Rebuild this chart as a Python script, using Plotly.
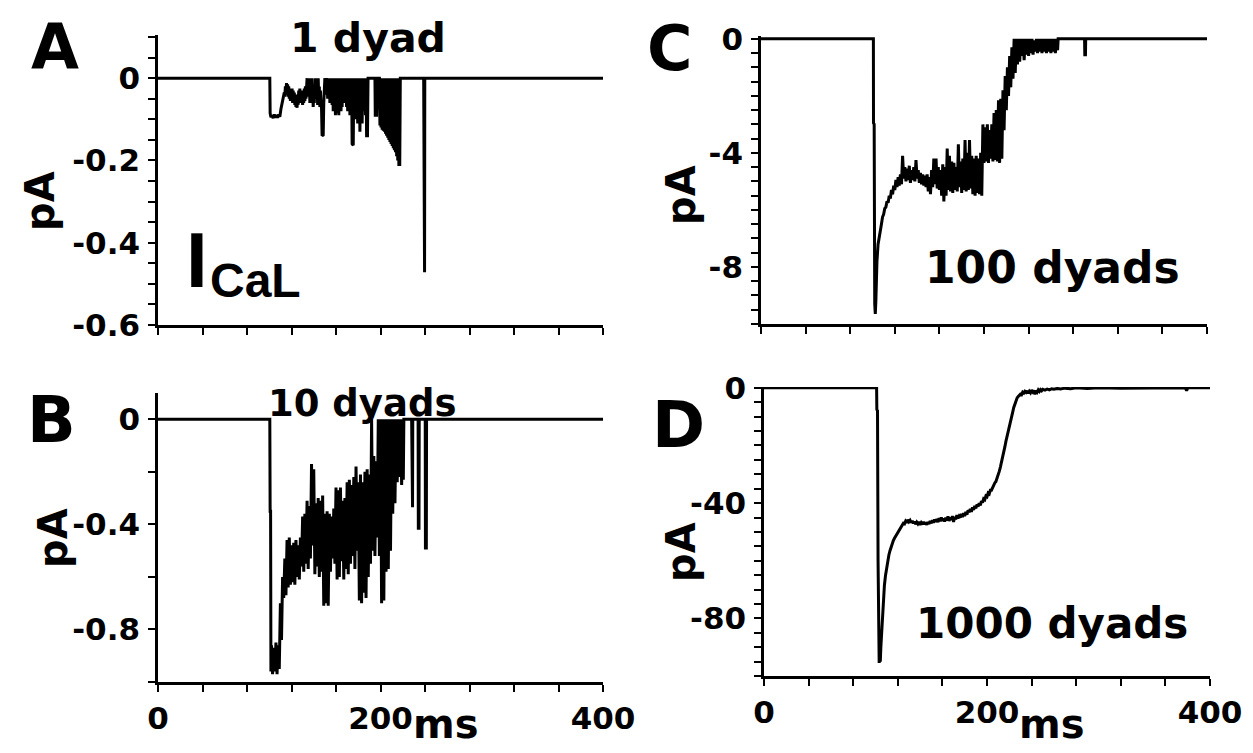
import plotly.graph_objects as go

# ---------------- data ----------------
# Panel A: 1 dyad  (time in ms, current in pA)
t_A = [0, 100.5, 100.8, 101.5, 102.5, 103.5, 104.5, 105.5, 106.5, 107.5, 108.5, 109.5, 110.5, 111.5, 112.5, 113.5,
       114, 114.5, 115, 115.5, 116, 116.5, 117, 117.5, 118, 118.5,
       119, 119.5, 120, 120.5, 121, 121.5, 122, 122.5, 123, 123.5,
       124, 124.5, 125, 125.5, 126, 126.5, 127, 127.5, 128, 128.5,
       129, 129.5, 130, 130.5, 131, 131.5, 132, 132.5, 133, 133.5,
       134, 134.5, 135, 135.5, 136, 136.5, 137, 137.5, 138, 138.5,
       139, 139.5, 140, 140.5, 141, 141.5, 142, 142.5, 143, 143.5,
       144, 144.5, 145, 145.5, 146, 146.5, 147,
       147.5, 148.5, 149, 149.5,
       150, 150.5, 151, 151.5, 152, 152.5, 153, 153.5, 154, 154.5,
       155, 155.5, 156, 156.5, 157, 157.5, 158, 158.5, 159, 159.5,
       160, 160.5, 161, 161.5, 162, 162.5, 163, 163.5, 164, 164.5,
       165, 165.5, 166, 166.5, 167, 167.5, 168, 168.5, 169, 169.5,
       170, 170.5, 171, 171.5, 172, 172.5, 173, 173.5, 174,
       174.5, 175.5,
       176, 176.5, 177, 177.5, 178, 178.5, 179, 179.5, 180, 180.5,
       181, 181.5, 182, 182.5, 183, 183.5, 184, 184.5, 185, 185.5,
       186, 186.5, 187,
       187.5, 188.3, 188.8, 195, 195.3, 196.5, 197, 199,
       199.5, 200, 200.5, 201, 201.5, 202, 202.5, 203, 203.5, 204,
       204.5, 205, 205.5, 206, 206.5, 207, 207.5, 208, 208.5, 209,
       209.5, 210, 210.5, 211, 211.5, 212, 212.5, 213, 213.5, 214,
       214.5, 215, 215.5, 216, 216.5,
       217.3, 217.8, 238.8, 239, 239.6, 239.8, 400]
i_A = [0, 0, -0.085, -0.095, -0.09, -0.097, -0.088, -0.096, -0.09, -0.096, -0.088, -0.094, -0.075, -0.06, -0.05, -0.035,
       -0.045, -0.02, -0.04, -0.012, -0.035, -0.015, -0.045, -0.02, -0.05, -0.025,
       -0.055, -0.03, -0.05, -0.025, -0.06, -0.03, -0.055, -0.035, -0.065, -0.04,
       -0.07, -0.045, -0.072, -0.04, -0.065, -0.03, -0.06, -0.025, -0.055, -0.03,
       -0.06, -0.035, -0.065, -0.03, -0.06, -0.025, -0.055, -0.02, -0.05, -0.01,
       0, -0.04, 0, -0.045, 0, -0.06, -0.01, -0.055, 0, -0.06,
       -0.02, -0.07, -0.03, -0.06, 0, -0.04, 0, -0.05, -0.01, -0.065,
       0, -0.05, -0.02, -0.07, -0.03, -0.06, -0.075,
       -0.14, -0.138, -0.06, -0.02,
       0, -0.04, 0, -0.03, 0, -0.05, 0, -0.035, 0, -0.06,
       -0.01, -0.045, 0, -0.065, 0, -0.08, 0, -0.075, -0.01, -0.09,
       0, -0.085, 0, -0.07, 0, -0.09, 0, -0.06, 0, -0.08,
       0, -0.07, -0.01, -0.05, 0, -0.06, 0, -0.04, 0, -0.07,
       0, -0.08, 0, -0.065, -0.01, -0.09, 0, -0.075, 0,
       -0.16, -0.163,
       0, -0.09, 0, -0.1, 0, -0.085, 0, -0.11, 0, -0.08,
       0, -0.13, 0, -0.095, 0, -0.11, 0, -0.07, 0, -0.08,
       0, -0.09, 0,
       -0.14, -0.14, 0, 0, -0.09, -0.09, 0, 0,
       -0.115, 0, -0.12, 0, -0.125, 0, -0.128, 0, -0.13, 0,
       -0.135, 0, -0.14, 0, -0.145, 0, -0.15, 0, -0.155, 0,
       -0.16, 0, -0.165, 0, -0.17, 0, -0.175, 0, -0.18, 0,
       -0.19, 0, -0.2, 0, -0.21,
       -0.21, 0, 0, -0.472, -0.472, 0, 0]

# Panel B: 10 dyads
t_B = [0, 100.5, 100.8, 101.2, 101.5, 102, 103, 104, 105, 106, 107, 108, 109, 110, 111, 112, 113, 114,
       115, 116, 117, 118, 119, 120, 121, 122, 123, 124, 125, 126, 127, 128, 129, 130, 131, 132, 133, 134,
       135, 136, 137, 138, 139, 140, 141, 142, 143, 144, 145, 146, 147, 148, 149, 150, 151, 152, 153, 154,
       155, 156, 157, 158, 159, 160, 161, 162, 163, 164, 165, 166, 167, 168, 169, 170, 171, 172, 173, 174,
       175, 176, 177, 178, 179, 180, 181, 182, 183, 184, 185, 186, 187, 188, 189, 190, 191, 192, 193, 194,
       195, 196, 197, 198, 199, 200, 201, 202, 203, 204, 205, 206, 207, 208, 209, 210, 211, 212, 213, 214,
       215, 216, 217, 218, 219, 220, 220.5, 221, 228, 228.3, 228.8, 229, 233.8, 234, 234.6, 234.8, 240.2,
       240.4, 241.2, 241.4, 400]
i_B = [0, 0, -0.35, -0.35, -0.96, -0.86, -0.97, -0.87, -0.96, -0.85, -0.97, -0.86, -0.95, -0.70, -0.84,
       -0.60, -0.68, -0.53, -0.67, -0.46, -0.64, -0.45, -0.63, -0.48, -0.62, -0.47, -0.63, -0.46, -0.60,
       -0.48, -0.61, -0.45, -0.56, -0.37, -0.58, -0.36, -0.55, -0.31, -0.57, -0.33, -0.53, -0.17, -0.48,
       -0.19, -0.59, -0.32, -0.56, -0.30, -0.60, -0.31, -0.58, -0.29, -0.71, -0.36, -0.70, -0.35, -0.71,
       -0.36, -0.58, -0.37, -0.53, -0.34, -0.55, -0.26, -0.61, -0.27, -0.60, -0.26, -0.54, -0.31, -0.61,
       -0.30, -0.57, -0.24, -0.59, -0.23, -0.55, -0.25, -0.52, -0.22, -0.57, -0.18, -0.50, -0.24, -0.69,
       -0.21, -0.70, -0.24, -0.66, -0.20, -0.68, -0.19, -0.60, -0.21, -0.55, 0, -0.50, -0.14, -0.52,
       -0.16, -0.45, 0, -0.52, 0, -0.70, 0, -0.69, 0, -0.58, 0, -0.57, 0, -0.50, 0, -0.36, 0, -0.32, 0,
       -0.24, 0, -0.22, 0, -0.25, 0, -0.23, 0, 0, -0.335, -0.335, 0, 0, -0.415, -0.415, 0, 0, -0.49,
       -0.49, 0, 0]

# Panel C: 100 dyads
t_C = [0, 100.8, 100.9, 101.5, 102, 102.5, 103, 103.5, 104, 105, 106, 107, 108, 109, 110, 111, 112, 113,
       114, 115, 116, 117, 118, 119, 120, 121, 122, 123, 124, 125, 126, 127, 128, 129, 130, 131, 132, 133,
       134, 135, 136, 137, 138, 139, 140, 141, 142, 143, 144, 145, 146, 147, 148, 149, 150, 151, 152, 153,
       154, 155, 156, 157, 158, 159, 160, 161, 162, 163, 164, 165, 166, 167, 168, 169, 170, 171, 172, 173,
       174, 175, 176, 177, 178, 179, 180, 181, 182, 183, 184, 185, 186, 187, 188, 189, 190, 191, 192, 193,
       194, 195, 196, 197, 198, 199, 200, 201, 202, 203, 204, 205, 206, 207, 208, 209, 210, 211, 212, 213,
       214, 215, 216, 217, 218, 219, 220, 221, 222, 223, 224, 225, 226, 227, 228, 229, 230, 231, 232, 233,
       234, 235, 236, 237, 238, 239, 240, 241, 242, 243, 244, 245, 246, 247, 248, 249, 250, 251, 252, 253,
       254, 255, 256, 257, 258, 259, 260, 261, 262, 263, 264, 265, 266, 266.5, 290.2, 290.4, 291, 291.2,
       400]
i_C = [0, 0, -2.95, -3.0, -9.3, -9.65, -9.2, -8.4, -7.8, -7.2, -6.9, -6.6, -6.5, -6.25, -6.15, -5.95,
       -5.9, -5.7, -5.75, -5.5, -5.6, -5.3, -5.45, -5.15, -5.3, -4.95, -5.2, -4.85, -5.15, -4.75, -5.1,
       -4.1, -4.9, -4.5, -5.0, -4.55, -4.95, -4.45, -5.05, -4.6, -4.95, -4.5, -5.0, -4.25, -4.9, -4.6,
       -5.05, -4.7, -5.1, -4.75, -5.15, -4.8, -5.2, -4.75, -5.35, -4.85, -5.45, -4.6, -5.2, -4.2, -5.1,
       -4.2, -5.25, -4.5, -5.3, -4.6, -5.5, -4.4, -5.7, -4.5, -5.5, -3.85, -5.3, -4.1, -5.35, -4.3, -5.4,
       -4.35, -5.3, -4.5, -5.35, -3.7, -5.2, -4.3, -5.4, -4.2, -5.3, -3.55, -5.35, -4.0, -5.3, -3.55,
       -5.25, -4.1, -5.45, -4.2, -5.5, -4.1, -5.4, -4.2, -5.45, -4.0, -5.5, -3.0, -4.35, -3.1, -4.3, -3.0,
       -4.35, -3.2, -4.2, -3.0, -4.3, -2.6, -4.25, -2.5, -4.3, -2.15, -4.35, -2.1, -4.2, -1.8, -3.2, -1.3,
       -2.5, -1.0, -2.0, -0.6, -1.7, -0.3, -1.4, 0, -1.2, 0, -0.9, 0, -0.8, 0, -0.6, 0, -0.75, 0, -0.55,
       0, -0.6, 0, -0.5, 0, -0.55, -0.05, -0.45, 0, -0.5, 0, -0.45, 0, -0.5, 0, -0.45, 0, -0.5, 0, -0.45,
       0, -0.5, 0, -0.45, 0, -0.5, 0, -0.4, 0, 0, -0.56, -0.56, 0, 0]

# Panel D: 1000 dyads
t_D = [0, 101, 101.2, 101.8, 102.3, 102.8, 103.3, 103.8, 104.3, 104.8, 105.5, 106, 106.5, 107, 108, 109,
       110, 111, 112, 113, 114, 115, 116, 117, 118, 119, 120, 121, 122, 123, 124, 125, 126, 127, 128, 129,
       130, 131, 132, 133, 134, 135, 136, 137, 138, 139, 140, 141, 142, 143, 144, 145, 146, 147, 148, 149,
       150, 151, 152, 153, 154, 155, 156, 157, 158, 159, 160, 161, 162, 163, 164, 165, 166, 167, 168, 169,
       170, 171, 172, 173, 174, 175, 176, 177, 178, 179, 180, 181, 182, 183, 184, 185, 186, 187, 188, 189,
       190, 191, 192, 193, 194, 195, 196, 197, 198, 199, 200, 201, 202, 203, 204, 205, 206, 207, 208, 209,
       210, 211, 212, 213, 214, 215, 216, 217, 218, 219, 220, 221, 222, 223, 224, 225, 226, 227, 228, 229,
       230, 231, 232, 233, 234, 235, 236, 237, 238, 239, 240, 241, 242, 243, 244, 245, 246, 247, 248, 249,
       250, 252, 254, 256, 258, 260, 263, 266, 270, 275, 280, 290, 300, 320, 340, 378, 379, 380, 400]
i_D = [0, 0, -7.5, -8, -60, -85, -95.5, -92, -95, -90, -85, -80, -75.5, -72.5, -68.5, -65, -62, -60, -58,
       -56.5, -55, -54, -53, -52.2, -51.5, -51, -50.5, -49.5, -49, -48.2, -47.8, -47, -47.2, -46.3, -46.8,
       -45.8, -46.5, -46, -46.8, -46.2, -47, -46.4, -47.3, -46.6, -47.2, -46.5, -47.5, -46.8, -47.4,
       -46.5, -47.3, -46.7, -47.5, -46.6, -47.2, -46.2, -47, -46, -46.8, -45.7, -46.5, -45.5, -46.6,
       -45.2, -46.3, -45, -46.2, -45.3, -46.4, -45, -46, -44.6, -46.2, -45, -45.8, -44.5, -46.5, -44.8,
       -45.6, -44.2, -45.3, -44.5, -45, -43.8, -44.8, -43.5, -44.5, -43, -44, -42.5, -43.2, -42, -43,
       -41.5, -42.3, -41, -41.8, -40.5, -41.2, -40, -40.8, -39.3, -39.8, -38.5, -38.8, -37.5, -37.8,
       -36.5, -36.8, -35.5, -35.5, -34.5, -34, -33, -32.5, -31.5, -30.5, -29, -27.5, -26, -24, -22.5,
       -20.5, -18.5, -17, -15, -13.5, -11.5, -10, -8.5, -6.8, -5.5, -4.5, -3.5, -3, -2.5, -2.2, -2.4,
       -1.5, -1.8, -1.2, -1.6, -1, -1.9, -1.2, -1.7, -0.8, -1.4, -0.9, -2.2, -1, -1.5, -0.7, -1.2, -0.6,
       -1, -0.5, -0.8, -0.4, -0.7, -0.3, -0.5, -0.2, -0.4, -0.1, -0.3, 0, -0.2, 0, -0.1, 0, 0, -1, 0, 0]

panel_titles = ["1 dyad", "10 dyads", "100 dyads", "1000 dyads"]
panel_letters = ["A", "B", "C", "D"]
x_tick_vals = [0, 200, 400]
x_tick_text = ["0", "200", "400"]
y_tick_vals = [[0, -0.2, -0.4, -0.6], [0, -0.4, -0.8], [0, -4, -8], [0, -40, -80]]
y_tick_text = [["0", "-0.2", "-0.4", "-0.6"], ["0", "-0.4", "-0.8"], ["0", "-4", "-8"], ["0", "-40", "-80"]]

for tt, vv in [(t_A, i_A), (t_B, i_B), (t_C, i_C), (t_D, i_D)]:
    assert len(tt) == len(vv), (len(tt), len(vv))

# ---------------- figure ----------------
# the page body has an 8 px margin, so the figure is drawn 8 px in from the window corner
OFF = 8
W, H = 1253 - OFF, 753 - OFF


def px(x):
    return (x - OFF) / W


def py(y):
    return 1 - (y - OFF) / H


FONT = "DejaVu Sans"
TICKFONT = dict(family=FONT, size=31, color="black", weight="bold")

fig = go.Figure()
series = [(t_A, i_A, "x", "y"), (t_B, i_B, "x2", "y2"), (t_C, i_C, "x3", "y3"), (t_D, i_D, "x4", "y4")]
for t, v, xa, ya in series:
    fig.add_trace(go.Scatter(x=t, y=v, mode="lines", xaxis=xa, yaxis=ya,
                             line=dict(color="black", width=3), hoverinfo="skip", showlegend=False))

x_domains = [(158, 603), (158, 603), (761, 1207), (764, 1210)]
y_domains = [(35, 325), (393, 682), (36, 324), (387, 676)]
y_ranges = [[-0.6, 0.105], [-1.0, 0.1], [-10, 0.1], [-100, 0.3]]
y_minor = [0.05, 0.2, 0.5, 5]
show_x_labels = [False, True, False, True]

for k in range(4):
    sfx = "" if k == 0 else str(k + 1)
    xd = x_domains[k]
    yd = y_domains[k]
    fig.update_layout(**{
        "xaxis" + sfx: dict(
            domain=[px(xd[0]), px(xd[1])], anchor="y" + sfx, range=[0, 400], automargin=False,
            showline=True, linecolor="black", linewidth=2.5, mirror=False,
            showgrid=False, zeroline=False,
            tickmode="array", tickvals=x_tick_vals, ticktext=x_tick_text,
            ticks="outside", ticklen=7, tickwidth=2, tickcolor="black",
            showticklabels=show_x_labels[k], tickfont=TICKFONT,
            minor=dict(dtick=40, tick0=0, ticks="outside", ticklen=7, tickwidth=2,
                       tickcolor="black", showgrid=False),
        ),
        "yaxis" + sfx: dict(
            domain=[py(yd[1]), py(yd[0])], anchor="x" + sfx, range=y_ranges[k], automargin=False,
            showline=True, linecolor="black", linewidth=2.5,
            showgrid=False, zeroline=False,
            tickmode="array", tickvals=y_tick_vals[k], ticktext=y_tick_text[k],
            ticks="outside", ticklen=7, tickwidth=2, tickcolor="black",
            tickfont=TICKFONT, ticklabelstandoff=2,
            minor=dict(dtick=y_minor[k], tick0=0, ticks="outside", ticklen=7, tickwidth=2,
                       tickcolor="black", showgrid=False),
        ),
    })

annotations = []


def add_text(text, x, y, size, family=FONT, angle=0, weight="bold"):
    annotations.append(dict(text=text, x=px(x), y=py(y), xref="paper", yref="paper",
                            showarrow=False, textangle=angle, xanchor="center", yanchor="middle",
                            borderpad=0,
                            font=dict(family=family, size=size, color="black", weight=weight)))


# panel letters
add_text(panel_letters[0], 55, 47, 62)
add_text(panel_letters[1], 52, 420, 64)
add_text(panel_letters[2], 670, 48, 62)
add_text(panel_letters[3], 678, 425, 64)
# titles
add_text(panel_titles[0], 368, 38, 41)
add_text(panel_titles[1], 362, 403, 37)
add_text(panel_titles[2], 1052, 268, 44)
add_text(panel_titles[3], 1052, 623, 42)
# y labels
add_text("pA", 40, 201, 40, angle=-90)
add_text("pA", 53, 538, 40, angle=-90)
add_text("pA", 681, 195, 40, angle=-90)
add_text("pA", 681, 552, 40, angle=-90)
# x labels
add_text("ms", 446, 724, 40)
add_text("ms", 1052, 724, 40)
# I_CaL
add_text("I", 197, 260, 78, family="Liberation Sans")
add_text("CaL", 255, 280, 48, family="Liberation Sans")

fig.update_layout(
    template="none",
    width=W, height=H, margin=dict(l=0, r=0, t=0, b=0, pad=0),
    paper_bgcolor="white", plot_bgcolor="white",
    annotations=annotations, showlegend=False,
)

fig.write_html("out.html")
